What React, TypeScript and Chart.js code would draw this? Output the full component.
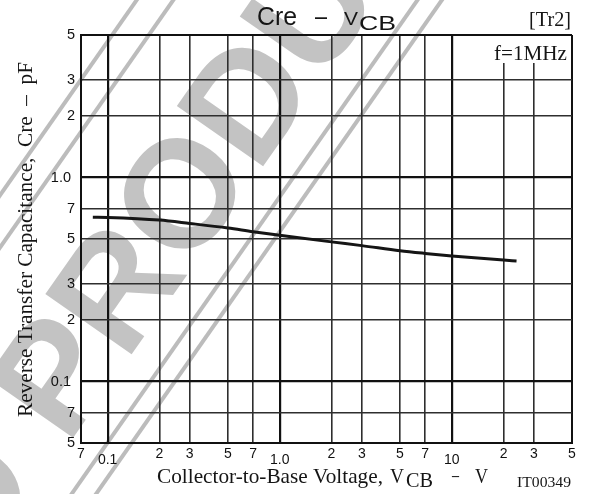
import { useEffect, useRef } from "react";
import { Chart, registerables } from "chart.js";

Chart.register(...registerables);

// ---- data ----
const VCB_V = [0.082, 0.1, 0.2, 0.3, 0.5, 0.7, 1.0, 2, 3, 5, 7, 10, 20, 23.8];
const CRE_PF = [0.64, 0.638, 0.619, 0.596, 0.566, 0.543, 0.522, 0.484, 0.464, 0.438, 0.425, 0.413, 0.394, 0.39];

const X_TICKS = [0.07, 0.1, 0.2, 0.3, 0.5, 0.7, 1, 2, 3, 5, 7, 10, 20, 30, 50];
const X_TICK_LABELS = ["7", "0.1", "2", "3", "5", "7", "1.0", "2", "3", "5", "7", "10", "2", "3", "5"];
const Y_TICKS = [0.05, 0.07, 0.1, 0.2, 0.3, 0.5, 0.7, 1, 2, 3, 5];
const Y_TICK_LABELS = ["5", "7", "0.1 ", "2", "3", "5", "7", "1.0 ", "2", "3", "5"];
const MAJOR_VALUES = [0.1, 1, 10];

const TITLE_MAIN = "Cre";
const TITLE_SUB = "CB";
const TAG = "[Tr2]";
const CONDITION = "f=1MHz";
const CODE = "IT00349";
const Y_TITLE = "Reverse Transfer Capacitance,  Cre  \u2013  pF";
const X_TITLE = "Collector-to-Base Voltage,";
const WATERMARK_A = "DISCONTINUED";
const WATERMARK_B = "PRODUCT";

const SANS = '"Liberation Sans", Arial, sans-serif';
const SERIF = '"Liberation Serif", "Times New Roman", serif';
const INK = "#151515";

const near = (a: number, b: number) => Math.abs(a - b) < 1e-9 * Math.max(1, b);
const isMajor = (v: number) => MAJOR_VALUES.some((m) => near(v, m));

function fitText(
  ctx: CanvasRenderingContext2D,
  text: string,
  x: number,
  y: number,
  font: string,
  width?: number
) {
  ctx.save();
  ctx.font = font;
  ctx.textAlign = "left";
  ctx.textBaseline = "alphabetic";
  ctx.fillStyle = INK;
  const w = ctx.measureText(text).width;
  const sx = width ? width / w : 1;
  ctx.translate(x, y);
  ctx.scale(sx, 1);
  ctx.fillText(text, 0, 0);
  ctx.restore();
}

function drawWatermark(ctx: CanvasRenderingContext2D) {
  ctx.save();
  ctx.rotate((-55 * Math.PI) / 180);
  ctx.fillStyle = "#c3c3c3";
  ctx.font = `bold 153px ${SANS}`;
  ctx.textBaseline = "alphabetic";
  const u0 = -327;
  const vBase = 311;
  ctx.textAlign = "left";
  ctx.fillText(WATERMARK_B, u0, vBase);
  const sp = ctx.measureText(" ").width;
  ctx.textAlign = "right";
  ctx.fillText(WATERMARK_A, u0 - sp, vBase);
  ctx.fillStyle = "#bcbcbc";
  for (const v of [112, 142, 342, 362]) {
    ctx.fillRect(-1200, v - 2, 2400, 4);
  }
  ctx.restore();
}

function drawTexts(ctx: CanvasRenderingContext2D) {
  // white box behind the condition label
  ctx.save();
  ctx.fillStyle = "#ffffff";
  ctx.fillRect(470, 36, 100, 27);
  ctx.restore();

  // title
  fitText(ctx, TITLE_MAIN, 257, 25, `25px ${SANS}`, 40);
  fitText(ctx, "\u2013", 315, 25, `25px ${SANS}`, 12);
  fitText(ctx, "V", 344, 25, `19px ${SANS}`, 14);
  fitText(ctx, TITLE_SUB, 359, 30, `21px ${SANS}`, 37);

  fitText(ctx, TAG, 529, 26, `20px ${SERIF}`, 42);
  fitText(ctx, CONDITION, 494, 60, `21px ${SERIF}`, 73);
  fitText(ctx, CODE, 517, 487, `15px ${SERIF}`, 54);

  // x title
  fitText(ctx, X_TITLE, 157, 483, `21px ${SERIF}`, 226);
  fitText(ctx, "V", 390, 483, `21px ${SERIF}`, 14);
  fitText(ctx, TITLE_SUB, 406, 487, `21px ${SERIF}`, 27);
  fitText(ctx, "\u2013", 452, 482, `21px ${SERIF}`, 7);
  fitText(ctx, "V", 475, 483, `21px ${SERIF}`, 13);

  // y title (rotated)
  ctx.save();
  ctx.translate(32, 417);
  ctx.rotate(-Math.PI / 2);
  fitText(ctx, Y_TITLE, 0, 0, `21px ${SERIF}`, 355);
  ctx.restore();
}

const decorPlugin = {
  id: "decor",
  beforeDraw(chart: any) {
    drawWatermark(chart.ctx);
  },
  afterDraw(chart: any) {
    drawTexts(chart.ctx);
  },
};

function gridColor(ctx: any, edges: number[]) {
  const v = ctx.tick?.value;
  if (v === undefined) return "#2e2e2e";
  if (isMajor(v) || edges.some((e) => near(v, e))) return "#111111";
  return "#2e2e2e";
}
function gridWidth(ctx: any, edges: number[]) {
  const v = ctx.tick?.value;
  if (v === undefined) return 1.6;
  if (edges.some((e) => near(v, e))) return 2;
  if (isMajor(v)) return 2.2;
  return 1.6;
}

export default function App() {
  const ref = useRef<HTMLCanvasElement>(null);

  useEffect(() => {
    if (!ref.current) return;
    const xEdges = [X_TICKS[0], X_TICKS[X_TICKS.length - 1]];
    const yEdges = [Y_TICKS[0], Y_TICKS[Y_TICKS.length - 1]];
    const chart = new Chart(ref.current, {
      type: "line",
      data: {
        datasets: [
          {
            data: VCB_V.map((x, i) => ({ x, y: CRE_PF[i] })),
            borderColor: "#151515",
            borderWidth: 3,
            pointRadius: 0,
            cubicInterpolationMode: "monotone",
            fill: false,
          },
        ],
      },
      options: {
        responsive: false,
        animation: false,
        devicePixelRatio: 1,
        layout: { padding: { top: 35, right: 30, bottom: 0, left: 0 } },
        plugins: {
          legend: { display: false },
          tooltip: { enabled: false },
          title: { display: false },
        },
        scales: {
          x: {
            type: "logarithmic",
            min: X_TICKS[0],
            max: X_TICKS[X_TICKS.length - 1],
            afterBuildTicks: (s: any) => {
              s.ticks = X_TICKS.map((value) => ({ value, major: isMajor(value) }));
            },
            afterFit: (s: any) => {
              s.height = 51;
            },
            grid: {
              drawTicks: false,
              color: (c: any) => gridColor(c, xEdges),
              lineWidth: (c: any) => gridWidth(c, xEdges),
            },
            border: { display: true, color: "#111111", width: 2 },
            ticks: {
              autoSkip: false,
              maxRotation: 0,
              minRotation: 0,
              padding: 3,
              color: "#111111",
              font: (c: any) => ({
                family: SANS,
                size: 14,
                lineHeight: c.tick && isMajor(c.tick.value) ? 2 : 1.2,
              }),
              callback: (_v: any, i: number) => X_TICK_LABELS[i],
            },
          },
          y: {
            type: "logarithmic",
            min: Y_TICKS[0],
            max: Y_TICKS[Y_TICKS.length - 1],
            afterBuildTicks: (s: any) => {
              s.ticks = Y_TICKS.map((value) => ({ value, major: isMajor(value) }));
            },
            afterFit: (s: any) => {
              s.width = 81;
            },
            grid: {
              drawTicks: false,
              color: (c: any) => gridColor(c, yEdges),
              lineWidth: (c: any) => gridWidth(c, yEdges),
            },
            border: { display: true, color: "#111111", width: 2 },
            ticks: {
              autoSkip: false,
              padding: 6,
              color: "#111111",
              font: { family: SANS, size: 14.5 },
              callback: (_v: any, i: number) => Y_TICK_LABELS[i],
            },
          },
        },
      },
      plugins: [decorPlugin],
    } as any);
    return () => chart.destroy();
  }, []);

  return (
    <div style={{ position: "absolute", left: 0, top: 0, width: 602, height: 494, background: "#fff" }}>
      <canvas ref={ref} width={602} height={494} style={{ display: "block", width: 602, height: 494 }} />
    </div>
  );
}
